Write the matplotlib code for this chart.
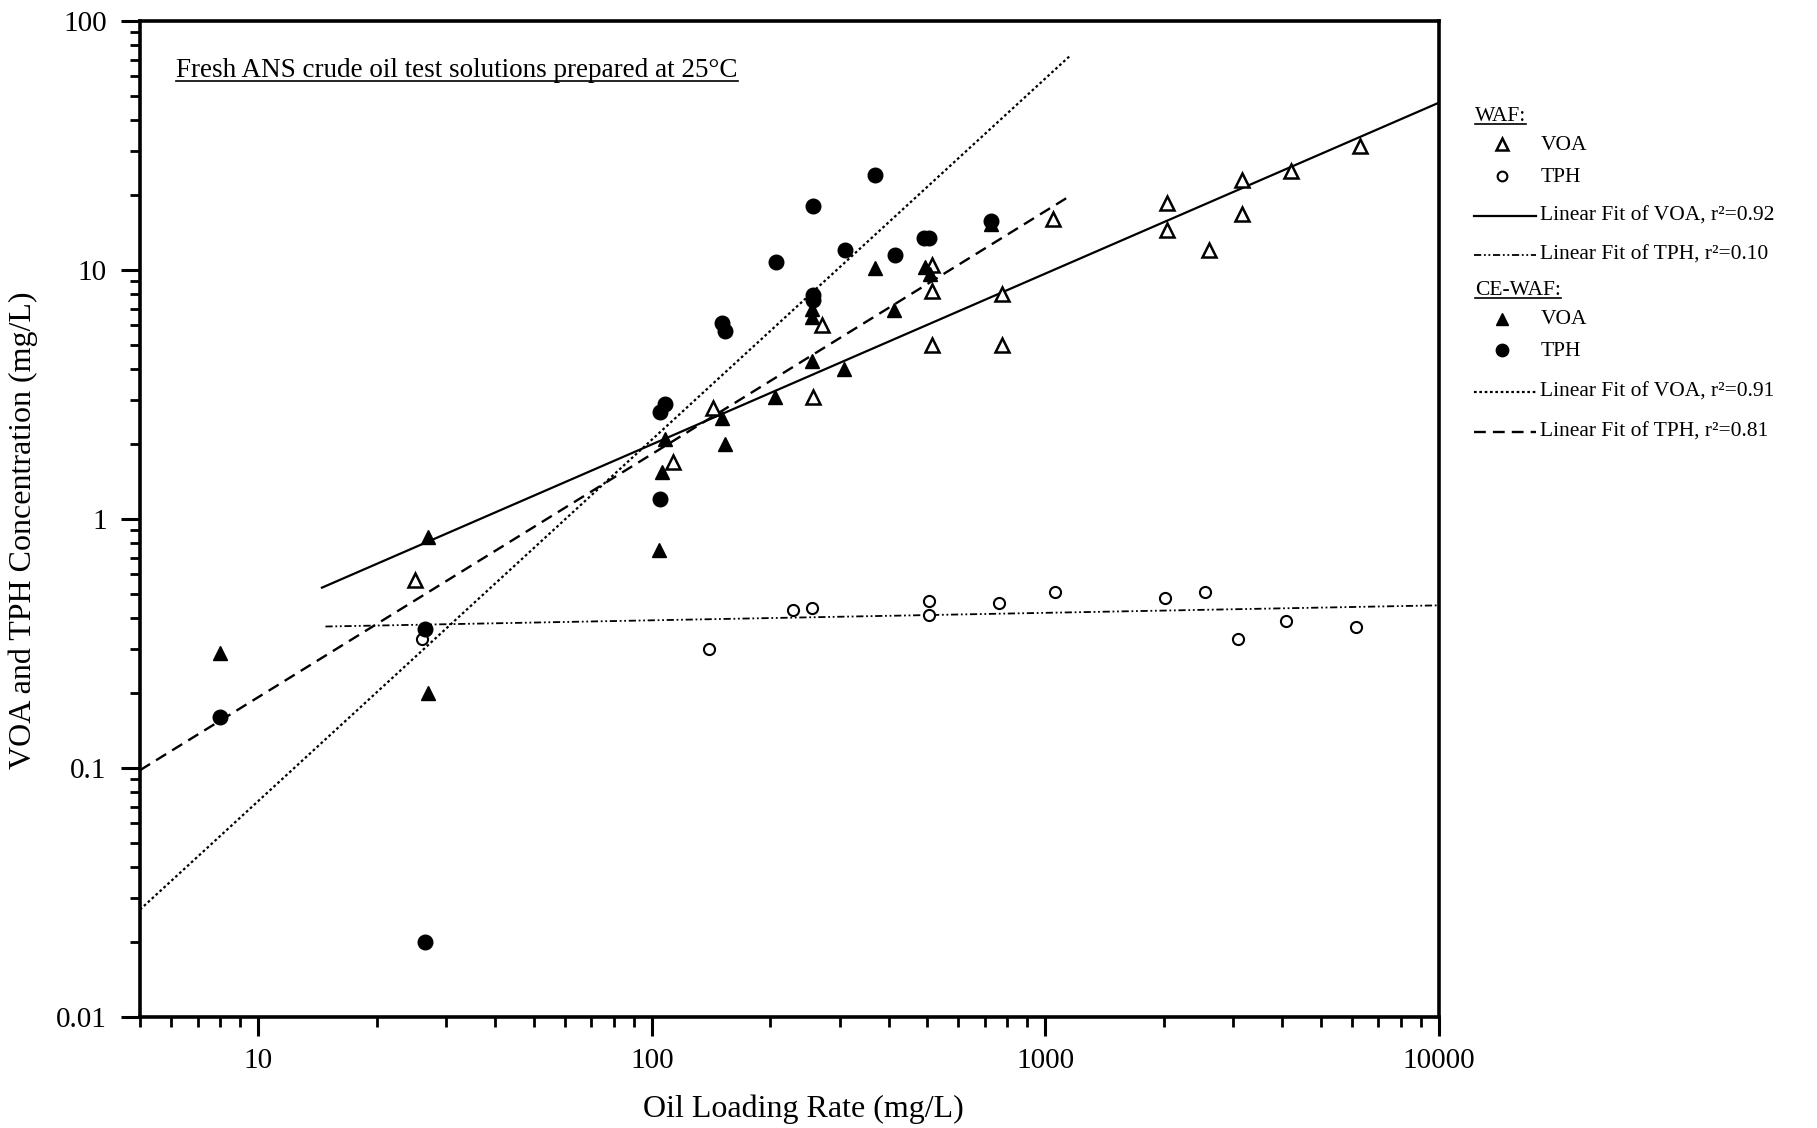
import matplotlib
matplotlib.use("Agg")
import matplotlib.pyplot as plt
from matplotlib.lines import Line2D
from matplotlib.ticker import LogLocator, NullFormatter, FixedLocator, FixedFormatter

plt.rcParams['font.family'] = ['Liberation Serif', 'DejaVu Serif']

# WAF test solutions (open symbols)
waf_voa_x = [25, 113, 143, 256, 270, 515, 515, 515, 775, 775, 1045, 2040, 2040, 2600, 3150, 3150, 4200, 6300]
waf_voa_y = [0.57, 1.7, 2.8, 3.1, 6.0, 10.5, 8.2, 5.0, 8.0, 5.0, 16, 18.5, 14.5, 12, 23, 16.8, 25, 31.5]
waf_tph_x = [26, 140, 228, 255, 505, 505, 760, 1055, 2010, 2550, 3090, 4080, 6140]
waf_tph_y = [0.33, 0.30, 0.43, 0.44, 0.47, 0.41, 0.46, 0.51, 0.48, 0.51, 0.33, 0.39, 0.37]

# CE-WAF test solutions (filled symbols)
ce_voa_x = [8, 27, 27, 104, 106, 108, 151, 153, 205, 255, 255, 255, 307, 368, 412, 495, 510, 728]
ce_voa_y = [0.29, 0.85, 0.2, 0.75, 1.55, 2.1, 2.55, 2.0, 3.1, 4.3, 6.5, 7.0, 4.0, 10.2, 6.9, 10.3, 9.6, 15.3]
ce_tph_x = [8, 26.5, 26.5, 105, 105, 108, 151, 153, 207, 257, 257, 257, 310, 368, 415, 490, 505, 727]
ce_tph_y = [0.16, 0.36, 0.02, 1.2, 2.7, 2.9, 6.1, 5.7, 10.8, 18, 7.9, 7.6, 12, 24, 11.5, 13.5, 13.5, 15.8]

# linear fits (end points)
fit_waf_voa_x = [14.5, 10000]
fit_waf_voa_y = [0.53, 47]
fit_waf_tph_x = [14.8, 10000]
fit_waf_tph_y = [0.37, 0.45]
fit_ce_voa_x = [5, 1160]
fit_ce_voa_y = [0.027, 73]
fit_ce_tph_x = [5, 1140]
fit_ce_tph_y = [0.098, 19.6]

x_ticks = [10, 100, 1000, 10000]
x_ticklabels = ['10', '100', '1000', '10000']
y_ticks = [0.01, 0.1, 1, 10, 100]
y_ticklabels = ['0.01', '0.1', '1', '10', '100']

W, H = 1817, 1128
fig = plt.figure(figsize=(W / 100, H / 100), dpi=100)
ax = fig.add_axes([140 / W, 1 - 1017 / H, 1299 / W, 996 / H])

ax.set_xscale('log')
ax.set_yscale('log')
ax.set_xlim(5, 10000)
ax.set_ylim(0.01, 100)

ms_tri = 10
ms_circ = 10.5
ax.plot(waf_voa_x, waf_voa_y, '^', ms=ms_tri, mfc='white', mec='black', mew=1.8, ls='none', zorder=3)
ax.plot(waf_tph_x, waf_tph_y, 'o', ms=8, mfc='white', mec='black', mew=1.5, ls='none', zorder=3)
ax.plot(ce_voa_x, ce_voa_y, '^', ms=ms_tri, color='black', ls='none', zorder=3)
ax.plot(ce_tph_x, ce_tph_y, 'o', ms=ms_circ, color='black', ls='none', zorder=3)

styles = {
    'waf_voa': dict(ls='-', lw=1.6),
    'waf_tph': dict(ls=(0, (4, 1.5, 1, 1.5, 1, 1.5)), lw=1.3),
    'ce_voa': dict(ls=(0, (1.2, 1.2)), lw=1.6),
    'ce_tph': dict(ls=(0, (5, 3)), lw=1.7),
}
ax.plot(fit_waf_voa_x, fit_waf_voa_y, color='black', **styles['waf_voa'])
ax.plot(fit_waf_tph_x, fit_waf_tph_y, color='black', **styles['waf_tph'])
ax.plot(fit_ce_voa_x, fit_ce_voa_y, color='black', **styles['ce_voa'])
ax.plot(fit_ce_tph_x, fit_ce_tph_y, color='black', **styles['ce_tph'])

# axes frame and ticks
for s in ax.spines.values():
    s.set_linewidth(2.6)
ax.xaxis.set_major_locator(FixedLocator(x_ticks))
ax.xaxis.set_major_formatter(FixedFormatter(x_ticklabels))
ax.yaxis.set_major_locator(FixedLocator(y_ticks))
ax.yaxis.set_major_formatter(FixedFormatter(y_ticklabels))
ax.xaxis.set_minor_locator(LogLocator(base=10, subs=range(2, 10), numticks=20))
ax.yaxis.set_minor_locator(LogLocator(base=10, subs=range(2, 10), numticks=20))
ax.xaxis.set_minor_formatter(NullFormatter())
ax.yaxis.set_minor_formatter(NullFormatter())
ax.tick_params(which='major', direction='out', length=14, width=2.2, labelsize=21,
               top=False, right=False)
ax.tick_params(which='minor', direction='out', length=7, width=2.0, top=False, right=False)
ax.tick_params(axis='x', which='major', pad=8)
ax.tick_params(axis='y', which='major', pad=10)

ax.text(0.511, -0.093, 'Oil Loading Rate (mg/L)', transform=ax.transAxes,
        ha='center', va='center', fontsize=23)
ax.text(-0.09, 0.489, 'VOA and TPH Concentration (mg/L)', transform=ax.transAxes,
        ha='center', va='center', rotation=90, fontsize=23)

title = fig.text(176 / W, 1 - 77 / H, 'Fresh ANS crude oil test solutions prepared at 25°C',
                 ha='left', va='baseline', fontsize=19.5)

# legend drawn by hand (headers are underlined)
fs_leg = 15.5
to_fig = lambda px, py: (px / W, 1 - py / H)

def add_line(y, style):
    x0, y0 = to_fig(1474, y)
    x1, _ = to_fig(1536, y)
    fig.add_artist(Line2D([x0, x1], [y0, y0], color='black', **style))

def add_text(x, y, s, va='center'):
    return fig.text(*to_fig(x, y), s, ha='left', va=va, fontsize=fs_leg)

def add_marker(y, **kw):
    fx, fy = to_fig(1502, y)
    fig.add_artist(Line2D([fx], [fy], ls='none', **kw))

h1 = add_text(1475, 121, 'WAF:', va='baseline')
add_marker(144, marker='^', ms=ms_tri * 0.8, mfc='white', mec='black', mew=1.8)
add_text(1541, 145, 'VOA')
add_marker(176, marker='o', ms=7, mfc='white', mec='black', mew=1.5)
add_text(1541, 177, 'TPH')
add_line(216, styles['waf_voa'])
add_text(1540, 216, 'Linear Fit of VOA, r²=0.92')
add_line(255, styles['waf_tph'])
add_text(1540, 255, 'Linear Fit of TPH, r²=0.10')
h2 = add_text(1475, 295, 'CE-WAF:', va='baseline')
add_marker(319, marker='^', ms=ms_tri * 0.9, color='black')
add_text(1541, 320, 'VOA')
add_marker(350, marker='o', ms=ms_circ * 0.85, color='black')
add_text(1541, 351, 'TPH')
add_line(392, styles['ce_voa'])
add_text(1540, 392, 'Linear Fit of VOA, r²=0.91')
add_line(432, styles['ce_tph'])
add_text(1540, 432, 'Linear Fit of TPH, r²=0.81')

# underline the title and legend headers
fig.canvas.draw()
inv = fig.transFigure.inverted()
for t, gap in [(title, 4), (h1, 3), (h2, 3)]:
    bb = t.get_window_extent()
    base_y = fig.transFigure.transform(t.get_position())[1] - gap
    (fx0, fy), (fx1, _) = inv.transform([(bb.x0, base_y), (bb.x1, base_y)])
    fig.add_artist(Line2D([fx0, fx1], [fy, fy], color='black', lw=1.2))

fig.savefig('out.png', dpi=100)
